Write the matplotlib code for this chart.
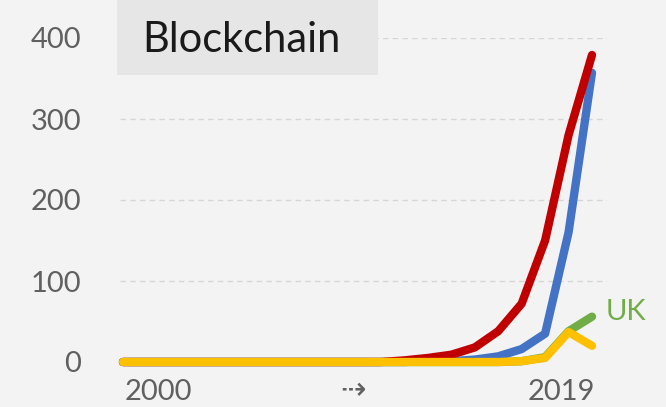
import matplotlib
matplotlib.use("Agg")
import matplotlib.pyplot as plt
from matplotlib.patches import Rectangle

years = list(range(2000, 2021))
red = [0, 0, 0, 0, 0, 0, 0, 0, 0, 0, 0, 0, 2, 5, 9, 18, 38, 72, 150, 280, 379]
blue = [0, 0, 0, 0, 0, 0, 0, 0, 0, 0, 0, 0, 0, 1, 1, 3, 7, 16, 35, 160, 357]
green = [0, 0, 0, 0, 0, 0, 0, 0, 0, 0, 0, 0, 0, 0, 0, 0, 0, 1, 6, 38, 56]
yellow = [0, 0, 0, 0, 0, 0, 0, 0, 0, 0, 0, 0, 0, 0, 0, 0, 0, 1, 5, 37, 20]

y_ticks = [0, 100, 200, 300, 400]
title = "Blockchain"
bg = "#f3f3f3"

plt.rcParams["font.family"] = ["Lato", "DejaVu Sans"]

fig = plt.figure(figsize=(6.66, 4.07), dpi=100, facecolor=bg)
W, H = 666, 407
ax = fig.add_axes([120 / W, (H - 362) / H, (607 - 120) / W, (362 - 38) / H])
ax.set_facecolor(bg)

px_per_year = (592 - 123) / 20
ax.set_xlim(2000 - 3 / px_per_year, 2020 + 15 / px_per_year)
ax.set_ylim(0, 400)

for s in ax.spines.values():
    s.set_visible(False)

ax.set_yticks(y_ticks)
ax.set_yticklabels([str(v) for v in y_ticks], fontsize=21, color="#606060")
ax.tick_params(axis="y", length=0, pad=28)
ax.set_xticks([2001.5, 2018.7])
ax.set_xticklabels(["2000", "2019"], fontsize=21, color="#606060")
ax.tick_params(axis="x", length=0, pad=12)
ax.text(2009.8, -35, "⇢", fontsize=22, color="#606060", ha="center", va="center",
        family=["DejaVu Sans"])

for v in y_ticks[1:]:
    ax.axhline(v, color="#d6d6d6", lw=1.0, ls=(0, (4, 3)), zorder=0)

lw = 6
ax.plot(years, green, color="#70ad47", lw=lw, solid_capstyle="round", clip_on=False, zorder=2)
ax.plot(years, blue, color="#4472c4", lw=lw, solid_capstyle="round", clip_on=False, zorder=3)
ax.plot(years, red, color="#c00000", lw=lw, solid_capstyle="round", clip_on=False, zorder=4)
ax.plot(years, yellow, color="#ffc000", lw=lw, solid_capstyle="round", clip_on=False, zorder=5)

ax.text(years[-1] + 0.6, green[-1] + 6, "UK", fontsize=21, color="#70ad47",
        ha="left", va="center")

# title box
fig.patches.append(Rectangle((117 / W, (H - 75) / H), (378 - 117) / W, 75 / H,
                             transform=fig.transFigure, facecolor="#e6e6e6",
                             edgecolor="none", zorder=5))
fig.text(142 / W, (H - 40) / H, title, fontsize=30, color="#1a1a1a",
         ha="left", va="center", zorder=6)

fig.savefig("out.png", dpi=100, facecolor=bg)
